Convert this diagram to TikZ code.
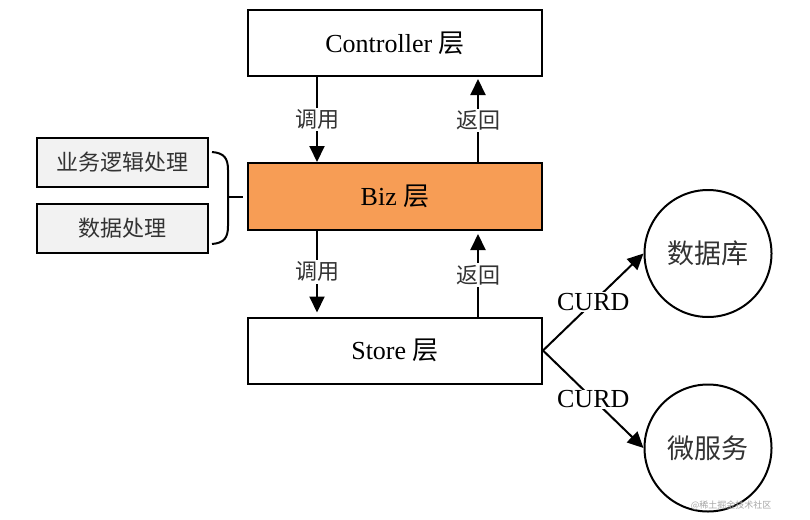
\documentclass[tikz,border=0pt]{standalone}
\usepackage{fontspec}
\setmainfont{Liberation Serif}
\newfontfamily\cjk{Noto Sans CJK SC}
\usetikzlibrary{arrows.meta}
\definecolor{bizorange}{HTML}{F79D55}
\definecolor{sidegray}{HTML}{F2F2F2}
\definecolor{cjktext}{HTML}{333333}
\begin{document}
\begin{tikzpicture}[x=1pt,y=-1pt,
  layerbox/.style={draw=black,line width=2pt,minimum width=294pt,minimum height=66pt,inner sep=0pt,font=\fontsize{26}{30}\selectfont},
  sidebox/.style={draw=black,line width=2pt,fill=sidegray,minimum width=171pt,minimum height=49pt,inner sep=0pt,font=\cjk\fontsize{22}{26}\selectfont,text=cjktext},
  storecircle/.style={draw=black,circle,line width=2pt,minimum size=127pt,inner sep=0pt,font=\cjk\fontsize{27}{30}\selectfont,text=cjktext},
  flow/.style={line width=2pt,-{Triangle[length=16pt,width=15pt]}},
  lbl/.style={fill=white,inner sep=2pt,font=\cjk\fontsize{22}{26}\selectfont,text=cjktext},
  curdlbl/.style={fill=white,inner sep=1pt,font=\fontsize{26}{30}\selectfont},
  wm/.style={font=\cjk\fontsize{9}{10}\selectfont,text=black!35}
]
\useasboundingbox (0,0) rectangle (810,519);
\fill[white] (0,0) rectangle (810,519);

\node[layerbox] (ctrl) at (395,43) {Controller {\cjk 层}};
\node[layerbox,fill=bizorange,minimum height=67pt] (biz) at (395,196.5) {Biz {\cjk 层}};
\node[layerbox] (store) at (395,350.5) {Store {\cjk 层}};

\node[sidebox] (logic) at (122.5,162.5) {业务逻辑处理};
\node[sidebox] (data) at (122.5,228) {数据处理};

\node[storecircle] (db) at (708,253.5) {数据库};
\node[storecircle] (ms) at (708,448) {微服务};

\coordinate (xl) at (317,0);
\coordinate (xr) at (478,0);

\draw[flow] (ctrl.south -| xl) -- node[lbl]{调用} (biz.north -| xl);
\draw[flow] (biz.north -| xr) -- node[lbl]{返回} ([yshift=-2pt]ctrl.south -| xr);
\draw[flow] (biz.south -| xl) -- node[lbl]{调用} ([yshift=4pt]store.north -| xl);
\draw[flow] (store.north -| xr) -- node[lbl]{返回} ([yshift=-3pt]biz.south -| xr);

\draw[flow] (store.east) -- node[curdlbl]{CURD} (db.west);
\draw[flow] (store.east) -- node[curdlbl]{CURD} (ms.west);

\coordinate (bt) at (212,152);
\coordinate (bb) at (212,244);
\coordinate (bm) at (228,197);
\coordinate (btick) at (243,197);
\draw[line width=2pt] (bt) .. controls (224,153) and (228,158) .. (228,170) -- (228,226) .. controls (228,238) and (224,243) .. (bb);
\draw[line width=2pt] (bm) -- (btick);

\node[wm] (mark) at (731,505) {@稀土掘金技术社区};
\end{tikzpicture}
\end{document}
